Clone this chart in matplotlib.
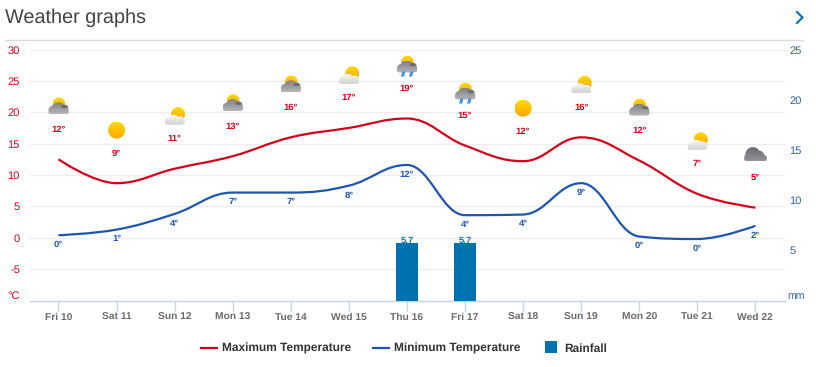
import numpy as np
import matplotlib
matplotlib.use("Agg")
import matplotlib.pyplot as plt
from matplotlib.path import Path
from matplotlib.patches import PathPatch, Rectangle, Polygon, Ellipse

days = ["Fri 10", "Sat 11", "Sun 12", "Mon 13", "Tue 14", "Wed 15", "Thu 16",
        "Fri 17", "Sat 18", "Sun 19", "Mon 20", "Tue 21", "Wed 22"]
max_temp = [12.5, 8.7, 11.0, 13.0, 16.0, 17.5, 19.0, 14.7, 12.2, 16.0, 12.3, 7.0, 4.8]
min_temp = [0.4, 1.3, 3.8, 7.2, 7.2, 8.3, 11.6, 3.6, 3.7, 8.7, 0.2, -0.2, 1.9]
max_labels = [12, 9, 11, 13, 16, 17, 19, 15, 12, 16, 12, 7, 5]
min_labels = [0, 1, 4, 7, 7, 8, 12, 4, 4, 9, 0, 0, 2]
rain = [0, 0, 0, 0, 0, 0, 5.7, 5.7, 0, 0, 0, 0, 0]
icons = ["cloudsun", "sun", "lightsun", "cloudsun", "cloudsun", "lightsun", "rain",
         "rain", "sun", "lightsun", "cloudsun", "lightsun", "cloud"]
left_ticks = [30, 25, 20, 15, 10, 5, 0, -5]
right_ticks = [5, 10, 15, 20, 25]

RED = "#d0021b"
BLUE = "#1f55ad"
BAR = "#0072b0"
AXBLUE = "#2f5fa8"
W, H = 816, 367

plt.rcParams["font.family"] = ["Liberation Sans", "DejaVu Sans"]
plt.rcParams["text.hinting"] = "no_hinting"
fig = plt.figure(figsize=(W / 100, H / 100), dpi=100)
L, R, T, B = 30, 785, 49.5, 300.5
ax = fig.add_axes([L / W, 1 - B / H, (R - L) / W, (B - T) / H])
ax2 = ax.twinx()
ax.set_zorder(1)
ax2.set_zorder(2)
ax2.patch.set_visible(False)
ax.set_xlim(-0.49, 12.51)
ax.set_ylim(-10, 30)
ax2.set_ylim(0, 25)

for s in ["top", "left", "right"]:
    ax.spines[s].set_visible(False)
    ax2.spines[s].set_visible(False)
ax2.spines["bottom"].set_visible(False)
ax.spines["bottom"].set_color("#c3d3ea")
ax.spines["bottom"].set_linewidth(1)

for v in left_ticks:
    ax.axhline(v, color="#eeeeee", lw=1, zorder=0)

x = np.arange(len(days))
ax.set_xticks(x)
ax.set_xticklabels(days, fontsize=7.4, fontweight="bold", color="#6b6b6b")
ax.tick_params(axis="x", length=7, width=1, color="#c3d3ea", pad=1.5)
ax.set_yticks(left_ticks)
ax.set_yticklabels([str(v) for v in left_ticks], fontsize=8.0, color=RED, va="center_baseline")
ax.tick_params(axis="y", length=0, pad=7.2)
ax2.set_yticks(right_ticks)
ax2.set_yticklabels([str(v) for v in right_ticks], fontsize=8.0, color=AXBLUE, va="center_baseline")
ax2.tick_params(axis="y", length=0, pad=3)


def spline(xs, ys, smoothing=1.5):
    """Smooth a day-by-day series without overshooting its daily values."""
    denom = smoothing + 1
    verts = [(xs[0], ys[0])]
    codes = [Path.MOVETO]
    n = len(xs)
    rc = (xs[0], ys[0])
    for i in range(1, n):
        px, py = xs[i], ys[i]
        lx, ly = xs[i - 1], ys[i - 1]
        if i < n - 1:
            nx, ny = xs[i + 1], ys[i + 1]
            lcx, lcy = (smoothing * px + lx) / denom, (smoothing * py + ly) / denom
            rcx, rcy = (smoothing * px + nx) / denom, (smoothing * py + ny) / denom
            corr = (rcy - lcy) * (rcx - px) / (rcx - lcx) + py - rcy
            lcy += corr
            rcy += corr
            if lcy > ly and lcy > py:
                lcy = max(ly, py)
                rcy = 2 * py - lcy
            elif lcy < ly and lcy < py:
                lcy = min(ly, py)
                rcy = 2 * py - lcy
            if rcy > ny and rcy > py:
                rcy = max(ny, py)
                lcy = 2 * py - rcy
            elif rcy < ny and rcy < py:
                rcy = min(ny, py)
                lcy = 2 * py - rcy
        else:
            lcx, lcy = px, py
            rcx, rcy = px, py
        verts += [rc, (lcx, lcy), (px, py)]
        codes += [Path.CURVE4] * 3
        rc = (rcx, rcy)
    return Path(verts, codes)


ax.add_patch(PathPatch(spline(x, max_temp), fill=False, edgecolor=RED, lw=1.6, zorder=4,
                       capstyle="butt"))
ax.add_patch(PathPatch(spline(x, min_temp), fill=False, edgecolor=BLUE, lw=1.6, zorder=4,
                       capstyle="butt"))
ax2.bar(x, rain, width=0.38, color=BAR, zorder=3)
for i, r in enumerate(rain):
    if r > 0:
        ax2.annotate(f"{r:.1f}", (i, r), xytext=(0, -0.8), textcoords="offset points",
                     ha="center", va="bottom", fontsize=6.8, fontweight="bold", color="#0f78b4")

for i, (hi, lo) in enumerate(zip(max_temp, min_temp)):
    ax.annotate(f"{max_labels[i]}°", (i, hi), xytext=(0, 21.6), textcoords="offset points",
                ha="center", va="center", fontsize=6.8, fontweight="bold", color=RED)
    ax.annotate(f"{min_labels[i]}°", (i, lo), xytext=(0, -6.8), textcoords="offset points",
                ha="center", va="center", fontsize=6.8, fontweight="bold", color=BLUE)

# Overlay in pixel units for icons, header and legend
ov = fig.add_axes([0, 0, 1, 1], zorder=5)
ov.set_xlim(0, W)
ov.set_ylim(H, 0)
ov.axis("off")


def filled_grad(poly, top, bottom, z):
    ys = poly[:, 1]
    xs = poly[:, 0]
    shape = Polygon(poly, closed=True, facecolor="none", edgecolor="none", zorder=z)
    ov.add_patch(shape)
    c0 = np.array(matplotlib.colors.to_rgb(top))
    c1 = np.array(matplotlib.colors.to_rgb(bottom))
    t = np.linspace(0, 1, 32)[:, None, None]
    img = c0[None, None, :] * (1 - t) + c1[None, None, :] * t
    im = ov.imshow(img, extent=(xs.min(), xs.max(), ys.max(), ys.min()), aspect="auto",
                   zorder=z, interpolation="bilinear")
    im.set_clip_path(shape)
    ov.set_xlim(0, W)
    ov.set_ylim(H, 0)


def blob_outline(cx, cy, blobs, bottom):
    """Single outline around a row of circles, cut flat at `bottom`."""
    left = min(b[0] - b[2] for b in blobs)
    right = max(b[0] + b[2] for b in blobs)
    xs = np.linspace(left, right, 80)
    top_e = np.full_like(xs, 1e6)
    bot_e = np.full_like(xs, -1e6)
    for bx, by, r in blobs:
        h = np.sqrt(np.clip(r * r - (xs - bx) ** 2, 0, None))
        inside = np.abs(xs - bx) <= r + 1e-6
        top_e = np.where(inside, np.minimum(top_e, by - h), top_e)
        bot_e = np.where(inside, np.maximum(bot_e, by + h), bot_e)
    bot_e = np.minimum(np.maximum(bot_e, bottom - 0.8), bottom)
    upper = np.c_[cx + xs, cy + top_e]
    lower = np.c_[cx + xs[::-1], cy + bot_e[::-1]]
    return np.vstack([upper, lower])


def draw_sun(cx, cy, r, z):
    th = np.linspace(0, 2 * np.pi, 60)
    filled_grad(np.c_[cx + r * np.cos(th), cy + r * np.sin(th)], "#ffd800", "#ffa800", z)


GREY_BLOBS = [(0, 3.5, 7.5), (-5.5, 4.0, 4.5), (5, 3.5, 5.2)]
LIGHT_BLOBS = [(-1, 5, 6), (-6, 5.5, 3.8), (5.5, 5, 4.5)]
DARK_BLOBS = [(-2.5, 0, 7.5), (-7, 3, 4.2), (3, 2, 6.2), (8.2, 3.5, 3.3)]


def grey_cloud(cx, cy):
    filled_grad(blob_outline(cx, cy, GREY_BLOBS, 8), "#808085", "#b4b4b9", 7)
    ov.add_patch(Ellipse((cx + 6, cy + 0.2), 6.5, 3.2, facecolor="#6c6c71", edgecolor="none", zorder=8))


def draw_icon(kind, cx, cy):
    if kind == "sun":
        draw_sun(cx, cy, 8.5, 6)
    elif kind == "cloudsun":
        draw_sun(cx + 0.5, cy - 2.5, 6.3, 6)
        grey_cloud(cx, cy)
    elif kind == "lightsun":
        draw_sun(cx + 3.5, cy - 1.5, 7, 6)
        filled_grad(blob_outline(cx, cy, LIGHT_BLOBS, 9), "#f7f7f7", "#d2d2d2", 7)
    elif kind == "rain":
        draw_sun(cx + 0.5, cy - 3.5, 6.3, 6)
        grey_cloud(cx, cy - 1)
        for dx in (-4, 4):
            ov.add_patch(Polygon([(cx + dx - 0.5, cy + 6), (cx + dx + 2.4, cy + 6),
                                  (cx + dx + 1.2, cy + 11), (cx + dx - 2.0, cy + 11)],
                                 facecolor="#3a94ee", edgecolor="none", zorder=8))
    else:
        filled_grad(blob_outline(cx, cy, DARK_BLOBS, 6.5), "#69696d", "#949498", 7)


ICON_RISE = 53  # px between the max-temperature point and the icon centre
for i, hi in enumerate(max_temp):
    px, py = ax.transData.transform((i, hi))
    draw_icon(icons[i], px, H - py - ICON_RISE)

# Header
ov.text(5, 17.8, "Weather graphs", fontsize=14.3, color="#444444", ha="left", va="center")
ov.plot([5, 803], [39.5, 39.5], color="#dcdcdc", lw=1, zorder=1)
ov.plot([797, 802.5, 797], [12, 17.5, 23], color="#0072b0", lw=1.5, solid_joinstyle="miter", zorder=6)

# Unit labels
ov.text(19.5, 296, "°C", fontsize=8.0, color=RED, ha="right", va="center")
ov.text(787, 296.5, "mm", fontsize=7.6, color=AXBLUE, ha="left", va="center")

# Legend
ov.plot([201, 217], [348, 348], color=RED, lw=1.6)
ov.text(222, 348.3, "Maximum Temperature", fontsize=8.55, fontweight="bold", color="#333333", va="center")
ov.plot([373, 389], [348, 348], color=BLUE, lw=1.6)
ov.text(394.5, 348.3, "Minimum Temperature", fontsize=8.55, fontweight="bold", color="#333333", va="center")
ov.add_patch(Rectangle((545, 341), 12, 12, facecolor=BAR, edgecolor="none"))
ov.text(564, 348.3, "Rainfall", fontsize=8.55, fontweight="bold", color="#333333", va="center")

fig.savefig("out.png", dpi=100)
